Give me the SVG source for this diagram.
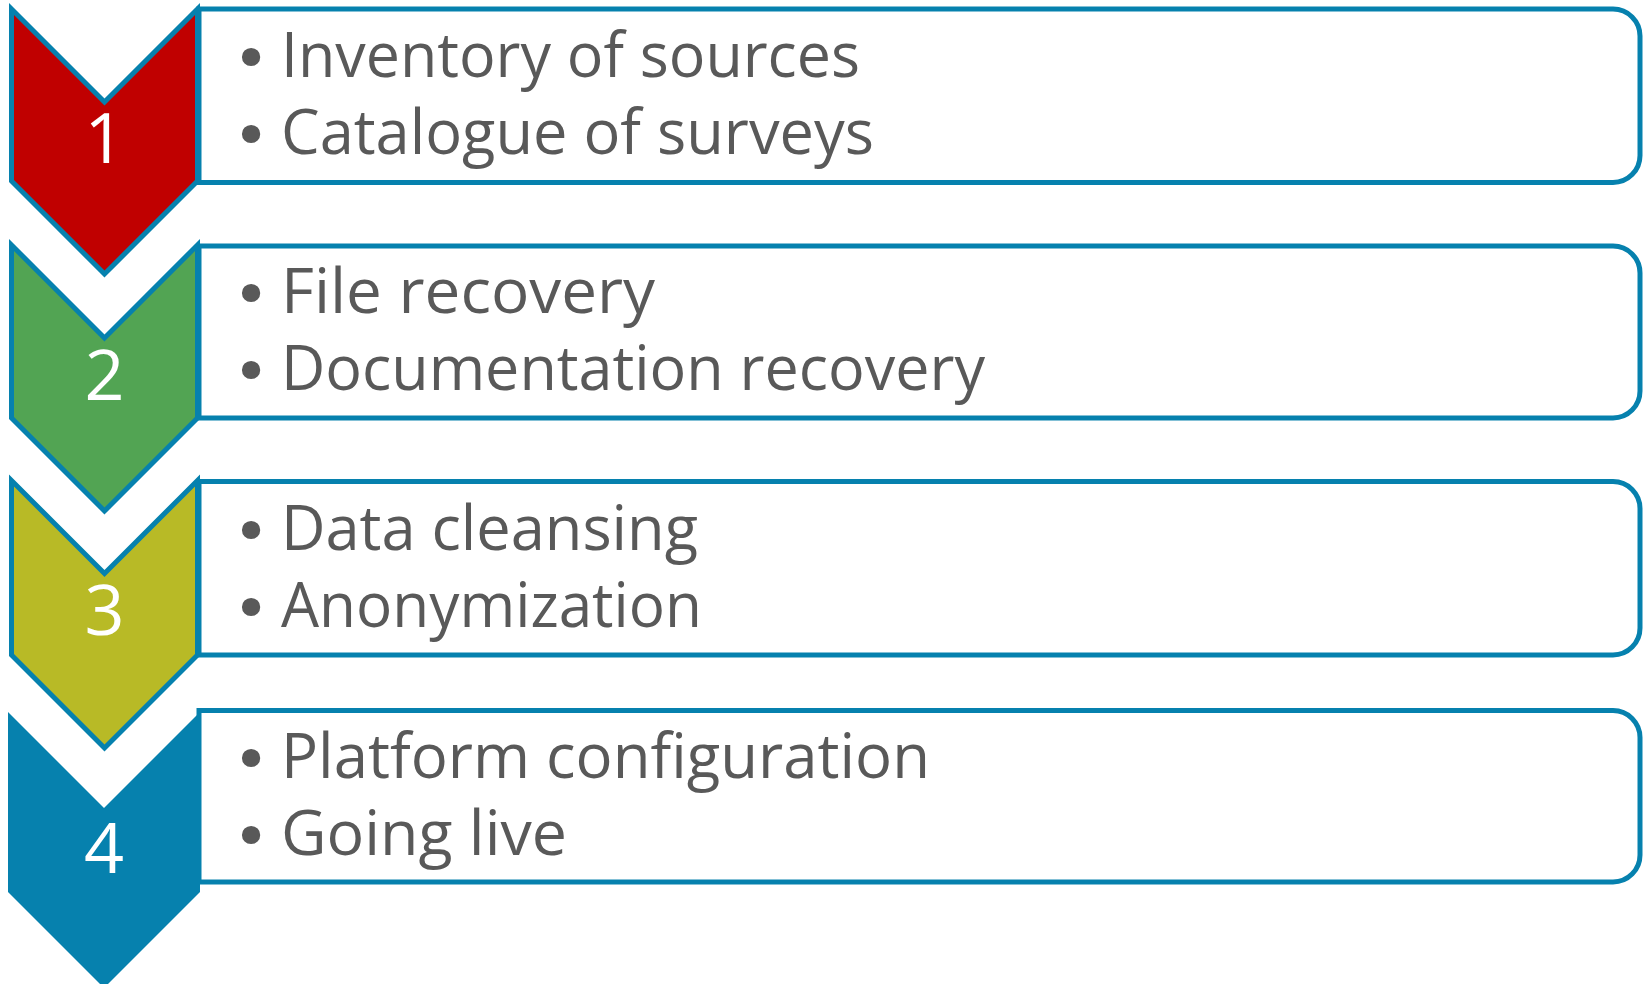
<svg xmlns="http://www.w3.org/2000/svg" width="1643" height="984" viewBox="0 0 1643 984">
<style>
.box{fill:#ffffff;stroke:#0681AE;stroke-width:5}
.chev{stroke:#0681AE;stroke-width:5;stroke-linejoin:miter}
.num{font-family:"Open Sans","Noto Sans",sans-serif;font-size:70px;fill:#ffffff;text-anchor:middle}
.item{font-family:"Open Sans","Noto Sans",sans-serif;font-size:63px;fill:#595959}
.bul{font-family:"DejaVu Sans","Liberation Sans",sans-serif;font-size:63px;fill:#595959;text-anchor:middle}
</style>
<rect width="1643" height="984" fill="#ffffff"/>
<g id="step1">
<path class="box" d="M199,9 H1613 A27,27 0 0 1 1640,36 V155.5 A27,27 0 0 1 1613,182.5 H199 Z"/>
<polygon class="chev" fill="#C00000" points="11.5,9 104.5,102 197.5,9 197.5,181 104.5,274 11.5,181"/>
<text class="num" x="104.5" y="163">1</text>
<text class="bul" x="251" y="80">•</text>
<text class="item" x="281" y="77" textLength="579" lengthAdjust="spacingAndGlyphs">Inventory of sources</text>
<text class="bul" x="251" y="157">•</text>
<text class="item" x="281" y="154" textLength="593" lengthAdjust="spacingAndGlyphs">Catalogue of surveys</text>
</g>
<g id="step2">
<path class="box" d="M199,246 H1613 A27,27 0 0 1 1640,273 V391 A27,27 0 0 1 1613,418 H199 Z"/>
<polygon class="chev" fill="#52A453" points="11.5,245 104.5,338 197.5,245 197.5,418 104.5,511 11.5,418"/>
<text class="num" x="104.5" y="400">2</text>
<text class="bul" x="251" y="316">•</text>
<text class="item" x="281" y="313" textLength="374" lengthAdjust="spacingAndGlyphs">File recovery</text>
<text class="bul" x="251" y="393">•</text>
<text class="item" x="281" y="390" textLength="704" lengthAdjust="spacingAndGlyphs">Documentation recovery</text>
</g>
<g id="step3">
<path class="box" d="M199,481.5 H1613 A27,27 0 0 1 1640,508.5 V628 A27,27 0 0 1 1613,655 H199 Z"/>
<polygon class="chev" fill="#B8BA26" points="11.5,480.5 104.5,573.5 197.5,480.5 197.5,655 104.5,748 11.5,655"/>
<text class="num" x="104.5" y="635">3</text>
<text class="bul" x="251" y="553">•</text>
<text class="item" x="281" y="550" textLength="417" lengthAdjust="spacingAndGlyphs">Data cleansing</text>
<text class="bul" x="251" y="630">•</text>
<text class="item" x="281" y="627" textLength="421" lengthAdjust="spacingAndGlyphs">Anonymization</text>
</g>
<g id="step4">
<path class="box" d="M199,710.5 H1613 A27,27 0 0 1 1640,737.5 V855 A27,27 0 0 1 1613,882 H199 Z"/>
<polygon fill="#0681AE" points="8,712 104,808 200,712 200,892 104,988 8,892"/>
<text class="num" x="104" y="873">4</text>
<text class="bul" x="251" y="781">•</text>
<text class="item" x="281" y="778" textLength="649" lengthAdjust="spacingAndGlyphs">Platform configuration</text>
<text class="bul" x="251" y="858">•</text>
<text class="item" x="281" y="855" textLength="286" lengthAdjust="spacingAndGlyphs">Going live</text>
</g>
</svg>
